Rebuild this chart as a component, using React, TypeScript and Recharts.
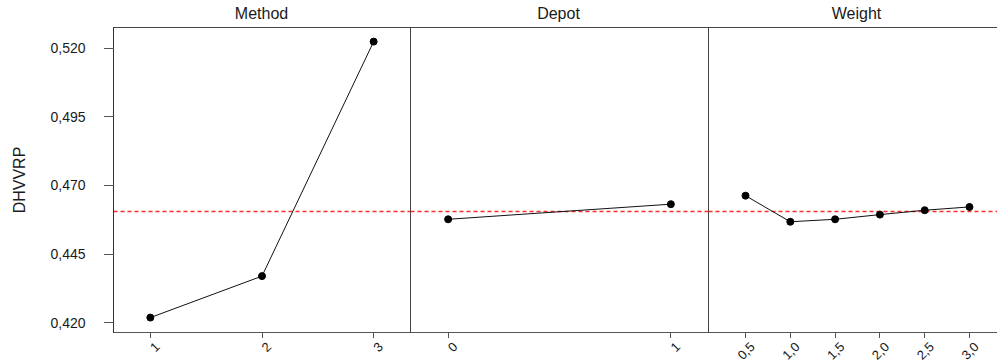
import React from 'react';
import { LineChart, Line, XAxis, YAxis, ReferenceLine, ReferenceArea } from 'recharts';

const methodLevels = [1, 2, 3];
const methodMeans = [0.4219, 0.437, 0.5224];
const depotLevels = [0, 1];
const depotMeans = [0.4577, 0.4632];
const weightLevels = [0.5, 1.0, 1.5, 2.0, 2.5, 3.0];
const weightMeans = [0.4663, 0.4568, 0.4577, 0.4594, 0.461, 0.4622];
const grandMean = 0.4605;
const yTicks = [0.42, 0.445, 0.47, 0.495, 0.52];
const panelTitles = ['Method', 'Depot', 'Weight'];
const yLabel = 'DHVVRP';

const Y_DOMAIN: [number, number] = [0.41647, 0.52754];
const FONT = '"Liberation Sans", Arial, Helvetica, sans-serif';
const TEXT = '#1a1a1a';
const FRAME = '#555555';

const fmtY = (v: number) => v.toFixed(3).replace('.', ',');

const makeTick = (fmt: (v: number) => string) => (props: any) => {
  const { x, y, payload } = props;
  return (
    <g transform={`translate(${x + 7},${y + 7})`}>
      <text transform="rotate(-45)" textAnchor="end" dy="0.35em" fontSize={13} fill={TEXT} fontFamily={FONT}>
        {fmt(payload.value)}
      </text>
    </g>
  );
};

type PanelProps = {
  levels: number[];
  means: number[];
  domain: [number, number];
  width: number;
  left: number;
  showY: boolean;
  fmtX: (v: number) => string;
};

const Panel = ({ levels, means, domain, width, left, showY, fmtX }: PanelProps) => {
  const data = levels.map((l, i) => ({ x: l, y: means[i] }));
  return (
    <div style={{ position: 'absolute', left, top: 0 }}>
      <LineChart
        width={width}
        height={360}
        data={data}
        margin={{ top: 27.5, right: 0.5, bottom: 0, left: showY ? 0 : 0.5 }}
      >
        <XAxis
          dataKey="x"
          type="number"
          domain={domain}
          ticks={levels}
          axisLine={{ stroke: FRAME, strokeWidth: 1, shapeRendering: 'crispEdges' }}
          tickLine={{ stroke: FRAME, shapeRendering: 'crispEdges' }}
          tickSize={5}
          tickMargin={0}
          height={27.5}
          tick={makeTick(fmtX)}
          allowDataOverflow
        />
        <XAxis
          xAxisId="top"
          orientation="top"
          dataKey="x"
          type="number"
          domain={domain}
          axisLine={{ stroke: '#6a6a6a', strokeWidth: 1, shapeRendering: 'crispEdges' }}
          tick={false}
          tickLine={false}
          height={0}
          allowDataOverflow
        />
        <YAxis
          type="number"
          domain={Y_DOMAIN}
          ticks={yTicks}
          hide={!showY}
          width={showY ? 113.5 : 0}
          axisLine={{ stroke: '#333333', shapeRendering: 'crispEdges' }}
          tickLine={{ stroke: FRAME, shapeRendering: 'crispEdges' }}
          tickSize={10}
          tickMargin={18}
          tickFormatter={fmtY}
          tick={{ fontSize: 14, fill: TEXT, fontFamily: FONT }}
          allowDataOverflow
        />
        <ReferenceArea
          x1={domain[0]}
          x2={domain[1]}
          y1={Y_DOMAIN[0]}
          y2={Y_DOMAIN[1]}
          fill="none"
          fillOpacity={0}
          stroke="#444444"
          strokeWidth={1}
          shapeRendering="crispEdges"
          ifOverflow="visible"
        />
        <ReferenceLine y={grandMean} stroke="#ff2a2a" strokeDasharray="4 3" strokeWidth={1.5} />
        <Line
          dataKey="y"
          stroke="#111"
          strokeWidth={1}
          dot={{ r: 3.5, fill: '#000', stroke: '#000', strokeWidth: 1 }}
          isAnimationActive={false}
        />
      </LineChart>
    </div>
  );
};

const fmtInt = (v: number) => String(v);
const fmtDec = (v: number) => v.toFixed(1).replace('.', ',');

export default function App() {
  return (
    <div
      style={{
        position: 'absolute',
        left: 0,
        top: 0,
        width: 997,
        height: 360,
        overflow: 'hidden',
        background: '#fff',
        fontFamily: FONT,
      }}
    >
      <Panel levels={methodLevels} means={methodMeans} domain={[0.67, 3.33]} width={411} left={0} showY fmtX={fmtInt} />
      <Panel levels={depotLevels} means={depotMeans} domain={[-0.169, 1.169]} width={299} left={410} showY={false} fmtX={fmtInt} />
      <Panel levels={weightLevels} means={weightMeans} domain={[0.087, 3.413]} width={299} left={708} showY={false} fmtX={fmtDec} />
      {panelTitles.map((t, i) => (
        <div
          key={t}
          style={{
            position: 'absolute',
            top: 4,
            left: [113, 410, 708][i],
            width: 297,
            textAlign: 'center',
            fontSize: 16,
            color: TEXT,
            lineHeight: '20px',
          }}
        >
          {t}
        </div>
      ))}
      <div
        style={{
          position: 'absolute',
          left: 20,
          top: 180,
          transform: 'translate(-50%, -50%) rotate(-90deg)',
          fontSize: 16,
          color: TEXT,
          whiteSpace: 'nowrap',
          lineHeight: '20px',
        }}
      >
        {yLabel}
      </div>
    </div>
  );
}
